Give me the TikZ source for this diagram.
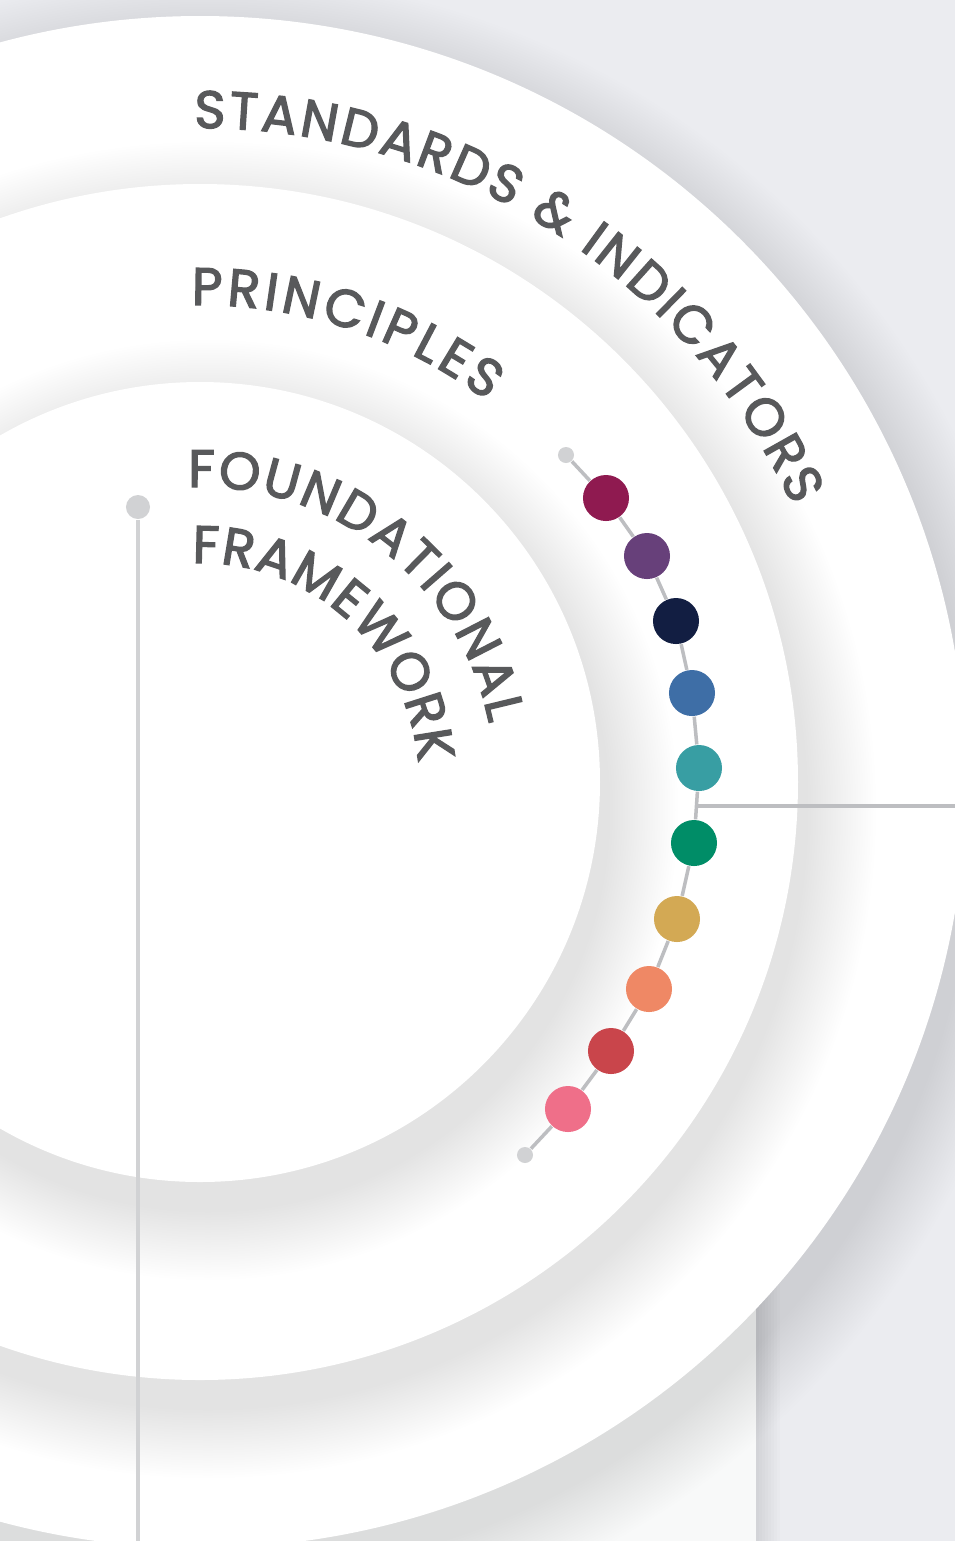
\documentclass[tikz,border=0pt]{standalone}
\usepackage{fontspec}
\usepackage{xcolor}
\usepackage{tikz}
\usetikzlibrary{calc, decorations.text}
\newfontfamily\ringfont{Poppins}[FakeBold=2.6]
\newcommand{\labelsize}{\fontsize{15}{17}\selectfont}
\definecolor{bggray}{HTML}{EBECF0}
\definecolor{panelgray}{HTML}{F8F9F9}
\definecolor{labelgray}{HTML}{58595B}
\definecolor{wiregray}{HTML}{BDBEC1}
\definecolor{capgray}{HTML}{D1D2D4}
\definecolor{beadA}{HTML}{8F1A50}
\definecolor{beadB}{HTML}{67407A}
\definecolor{beadC}{HTML}{121E42}
\definecolor{beadD}{HTML}{3E6EA6}
\definecolor{beadE}{HTML}{389EA3}
\definecolor{beadF}{HTML}{008D67}
\definecolor{beadG}{HTML}{D3A954}
\definecolor{beadH}{HTML}{EF8865}
\definecolor{beadI}{HTML}{C9454B}
\definecolor{beadJ}{HTML}{EF6F89}
\pgfdeclarelayer{rings}
\pgfdeclarelayer{wires}
\pgfsetlayers{rings,wires,main}
\tikzstyle{bead} = [circle, inner sep=0pt, minimum size=0.46cm]
\tikzstyle{endcap} = [circle, inner sep=0pt, minimum size=0.16cm, fill=capgray]
\tikzstyle{pinhead} = [circle, inner sep=0pt, minimum size=0.24cm, fill=capgray]
\tikzstyle{wire} = [line width=1pt, draw=wiregray]
\tikzstyle{pinline} = [line width=1.1pt, draw=capgray]
\tikzstyle{ringlabel} = [decorate,
decoration={text along path,
text align=fit to path,
text color=labelgray}]

\begin{document}
\begin{tikzpicture}[x=0.01cm, y=0.01cm]
\useasboundingbox (0,0) rectangle (955,-1541);
\coordinate (C) at (200,-782);

\begin{pgfonlayer}{rings}
%-----------background and the panel behind
\fill[bggray] (0,0) rectangle (955,-1541);
\foreach \k in {1,...,8}
  \fill[black, opacity=0.012] (0,-400) rectangle (756+3*\k,-1541);
\fill[panelgray] (0,-400) rectangle (756,-1541);

%-----------the three rings with their shadows
\foreach \r in {766,598,400} {
  \foreach \k in {1,...,28}
    \fill[black, opacity=0.0032] ($(C)+(8,-28)$) circle[radius=\r+\k*2.5];
  \fill[white] (C) circle[radius=\r];
}
\end{pgfonlayer}

%-----------labels on the rings
\path[ringlabel, decoration={text={|\ringfont\labelsize|STANDARDS {\&} INDICATORS}}]
  ($(C)+(90.5:654)$) arc[start angle=90.5, end angle=25, radius=654];
\path[ringlabel, decoration={text={|\ringfont\labelsize|PRINCIPLES}}]
  ($(C)+(91:477)$) arc[start angle=91, end angle=53, radius=477];
\path[ringlabel, decoration={text={|\ringfont\labelsize|FOUNDATIONAL}}]
  ($(C)+(92.3:295)$) arc[start angle=92.3, end angle=11.4, radius=295];
\path[ringlabel, decoration={text={|\ringfont\labelsize|FRAMEWORK}}]
  ($(C)+(92:219)$) arc[start angle=92, end angle=5, radius=219];

%-----------the beads
\node (capT) [endcap] at (566,-455) {};
\node (b1) [bead, fill=beadA] at (606,-498) {};
\node (b2) [bead, fill=beadB] at (647,-556) {};
\node (b3) [bead, fill=beadC] at (676,-621) {};
\node (b4) [bead, fill=beadD] at (692,-693) {};
\node (b5) [bead, fill=beadE] at (699,-768) {};
\node (b6) [bead, fill=beadF] at (694,-843) {};
\node (b7) [bead, fill=beadG] at (677,-919) {};
\node (b8) [bead, fill=beadH] at (649,-989) {};
\node (b9) [bead, fill=beadI] at (611,-1051) {};
\node (b10) [bead, fill=beadJ] at (568,-1109) {};
\node (capB) [endcap] at (525,-1155) {};

%-----------the pin on the left
\node (pin) [pinhead] at (138,-507) {};
\coordinate (pinfoot) at (138,-1541);

%-----------the tap to the right
\coordinate (tap) at (696.5,-806);
\coordinate (tapend) at (955,-806);

\begin{pgfonlayer}{wires}
\draw[wire] (capT) -- (b1) -- (b2) -- (b3) -- (b4) -- (b5) -- (b6)
  -- (b7) -- (b8) -- (b9) -- (b10) -- (capB);
\draw[wire] (tap) -- (tapend);
\draw[pinline] (pin) -- (pinfoot);
\end{pgfonlayer}

\end{tikzpicture}
\end{document}
